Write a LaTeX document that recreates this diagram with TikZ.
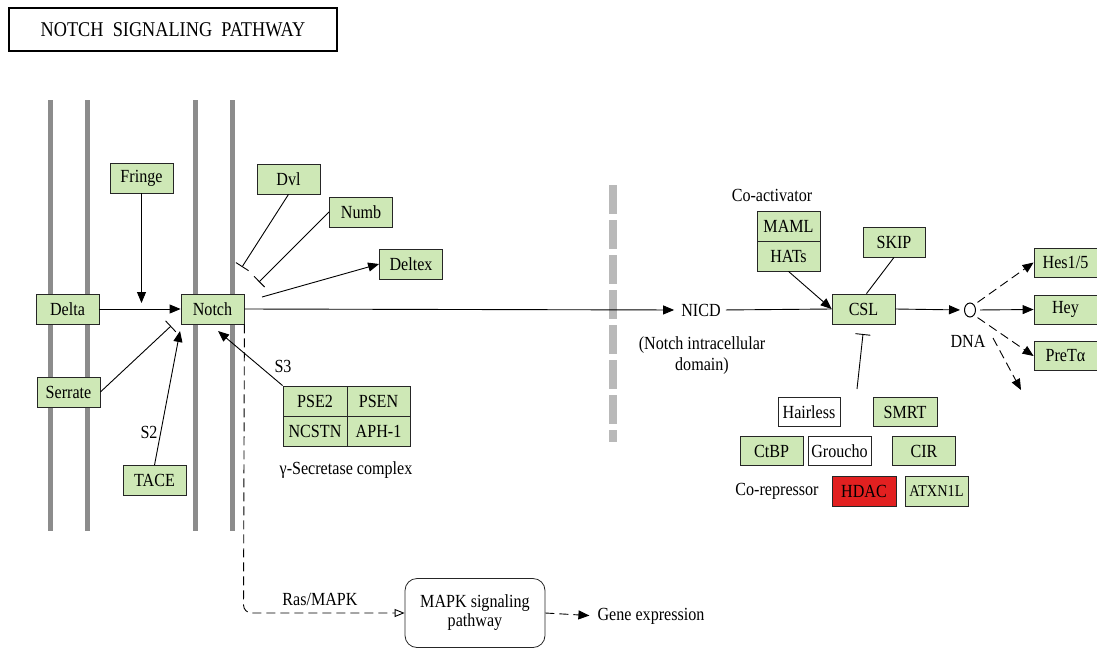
\documentclass[tikz,border=0pt]{standalone}
\usepackage{fontspec}
\setmainfont[FakeStretch=0.87]{Liberation Serif}
\usetikzlibrary{arrows.meta,shapes.geometric}
\definecolor{kgreen}{RGB}{206,232,182}
\definecolor{kred}{RGB}{226,32,32}
\definecolor{memb}{RGB}{140,140,140}
\definecolor{dashgray}{RGB}{185,185,185}
\begin{document}
\begin{tikzpicture}[x=1pt,y=-1pt,
  gene/.style={draw=black!85, line width=0.8pt, fill=kgreen, inner sep=0pt,
    minimum width=63pt, minimum height=30pt, font=\fontsize{18.5}{20}\selectfont},
  wgene/.style={gene, fill=white},
  rgene/.style={gene, fill=kred},
  lab/.style={font=\fontsize{18.5}{21}\selectfont, inner sep=0pt},
  conn/.style={line width=0.9pt, draw=black},
  tip/.style={-{Triangle[length=11pt,width=9pt]}},
  inh/.style={-{Bar[width=15pt,line width=0.9pt]}},
  dsh/.style={dash pattern=on 9pt off 5pt},
  membrane/.style={draw=memb, line width=5pt}
]
\useasboundingbox (0,0) rectangle (1097,651);

% title
\node[draw, line width=2.5pt, minimum width=328pt, minimum height=43pt, inner sep=0pt,
  font=\fontsize{21}{24}\selectfont] (title) at (173,29.5) {NOTCH\ \ SIGNALING\ \ PATHWAY};

% membranes
\draw[membrane] (50,100) -- (50,531);
\draw[membrane] (87,100) -- (87,531);
\draw[membrane] (195,100) -- (195,531);
\draw[membrane] (232,100) -- (232,531);

% nuclear separator
\draw[draw=dashgray, line width=8pt, dash pattern=on 29pt off 6pt] (613,185) -- (613,442);

% boxes
\node[gene] (fringe) at (141.5,178) {Fringe};
\node[gene] (dvl) at (288.5,179) {Dvl};
\node[gene] (numb) at (361,212) {Numb};
\node[gene] (deltex) at (411,264) {Deltex};
\node[gene] (delta) at (67.5,309) {Delta};
\node[gene] (notch) at (212.5,309) {Notch};
\node[gene] (serrate) at (68.5,392) {Serrate};
\node[gene] (tace) at (154.5,480.5) {TACE};
\node[gene, minimum width=64pt] (pse2) at (315,401) {PSE2};
\node[gene] (psen) at (378.5,401) {PSEN};
\node[gene, minimum width=64pt] (ncstn) at (315,431) {NCSTN};
\node[gene] (aph) at (378.5,431) {APH-1};
\node[gene] (maml) at (788.5,226) {MAML};
\node[gene] (hats) at (788.5,256) {HATs};
\node[gene, minimum width=62pt] (skip) at (894,242) {SKIP};
\node[gene] (csl) at (863.5,309) {CSL};
\node[gene, minimum height=29pt] (hes) at (1065.5,262.5) {Hes1/5};
\node[gene, minimum height=29pt] (hey) at (1065.5,309.5) {Hey};
\node[gene, minimum height=29pt] (pret) at (1065.5,356) {PreTα};
\node[wgene, minimum width=62pt, minimum height=29pt] (hairless) at (809,412) {Hairless};
\node[gene, minimum width=64pt, minimum height=29pt] (smrt) at (905,412) {SMRT};
\node[gene, minimum height=29pt] (ctbp) at (771.5,451) {CtBP};
\node[wgene, minimum height=29pt] (groucho) at (839.5,451) {Groucho};
\node[gene, minimum height=29pt] (cir) at (924,451) {CIR};
\node[rgene, minimum width=64pt] (hdac) at (864,491) {HDAC};
\node[gene, font=\fontsize{16.5}{18}\selectfont] (atxn) at (936.5,491) {ATXN1L};
\node[draw=black!85, line width=0.8pt, rounded corners=12pt, minimum width=140pt, minimum height=69pt,
  align=center, inner sep=0pt, font=\fontsize{18.5}{19}\selectfont] (mapk) at (475,613) {MAPK signaling\\pathway};

% labels
\node[lab] (nicd) at (701,310) {NICD};
\node[lab, align=center] (nicdfull) at (702,356) {(Notch intracellular\\domain)};
\node[lab] (coact) at (772,195) {Co-activator};
\node[lab] (corep) at (777,491) {Co-repressor};
\node[lab] (dna) at (968,341) {DNA};
\node[draw, line width=1pt, ellipse, minimum width=11pt, minimum height=14pt, inner sep=0pt] (dnao) at (970,310) {};
\node[lab] (s3) at (283,366) {S3};
\node[lab] (s2) at (149,432) {S2};
\node[lab] (gsec) at (346,470) {γ-Secretase complex};
\node[lab] (ras) at (320,599) {Ras/MAPK};
\node[lab] (geneexp) at (651,616) {Gene expression};

% free ends
\coordinate (fringeend) at (141.5,303);
\coordinate (serend) at (171,326);
\coordinate (taceend) at (180,331);
\coordinate (s3end) at (218,331);
\coordinate (dvlend) at (242,267);
\coordinate (numbend) at (259,282);
\coordinate (dxstart) at (262,297);
\coordinate (corepsrc) at (857,389);
\coordinate (cslbar) at (863,334);
\coordinate (fourth) at (1021,390);

% connectors
\draw[conn,tip] (delta) -- (notch);
\draw[conn,tip] (fringe.south) -- (fringeend);
\draw[conn,inh] (serrate.east) -- (serend);
\draw[conn,tip] (tace.north) -- (taceend);
\draw[conn,tip] (pse2.north west) -- (s3end);
\draw[conn,inh] (dvl.south) -- (dvlend);
\draw[conn,inh] (numb.west) -- (numbend);
\draw[conn,tip] (dxstart) -- (deltex.west);
\draw[conn,tip,shorten >=7pt] (notch.east) -- (nicd.west);
\draw[conn,shorten <=5pt] (nicd.east) -- (csl.west);
\draw[conn,tip] (hats.south) -- (csl.west);
\draw[conn] (skip.south) -- ([xshift=3pt]csl.north);
\draw[conn,tip,shorten >=4pt] (csl.east) -- (dnao.west);
\draw[conn,inh] (corepsrc) -- (cslbar);
\draw[conn,tip,dsh,shorten <=4pt] (dnao.north east) -- (hes.west);
\draw[conn,tip,shorten <=4pt] (dnao.east) -- (hey.west);
\draw[conn,tip,dsh,shorten <=4pt] (dnao.south east) -- (pret.west);
\draw[conn,tip,dsh] (993,338) -- (fourth);
\draw[conn,dsh,rounded corners=8pt,-{Triangle[open,length=10pt,width=8pt]}] (notch.south east) -- (243.5,613) -- (mapk.west);
\draw[conn,dsh,tip,shorten >=8pt] (mapk.east) -- (geneexp.west);
\end{tikzpicture}
\end{document}
